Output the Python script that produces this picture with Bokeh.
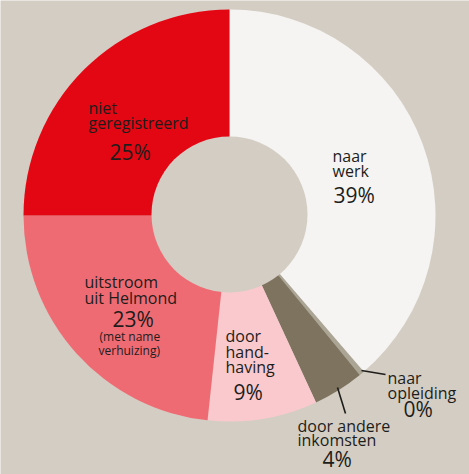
import math
from bokeh.plotting import figure
from bokeh.models import Range1d
from bokeh.core.properties import value
from bokeh.embed import file_html
from bokeh.resources import INLINE

# ---- data ----
categories = ["naar werk", "naar opleiding", "door andere inkomsten",
              "door handhaving", "uitstroom uit Helmond", "niet geregistreerd"]
shares = [38.7, 0.4, 4.0, 8.6, 23.3, 25.0]
pct_labels = ["39%", "0%", "4%", "9%", "23%", "25%"]
name_lines = [["naar", "werk"], ["naar", "opleiding"], ["door andere", "inkomsten"],
              ["door", "hand-", "having"], ["uitstroom", "uit Helmond"],
              ["niet", "geregistreerd"]]
note_lines = ["(met name", "verhuizing)"]

colors = ["#f5f4f2", "#aba595", "#7e735f", "#f9c9cd", "#ef6b74", "#e30613"]
BG = "#d4cdc3"
TXT = "#1d1d1b"
W, H = 469, 474

p = figure(width=W, height=H, output_backend="svg", toolbar_location=None,
           x_range=Range1d(0, W), y_range=Range1d(0, H),
           min_border=0, background_fill_color=BG, border_fill_color=BG)
p.axis.visible = False
p.grid.visible = False
p.outline_line_color = None

cx, cy = 229, H - 215
total = sum(shares)
starts, ends = [], []
cum = 0.0
for s in shares:
    starts.append(math.pi / 2 - 2 * math.pi * cum / total)
    cum += s
    ends.append(math.pi / 2 - 2 * math.pi * cum / total)

p.annular_wedge(x=cx, y=cy, inner_radius=0, outer_radius=206,
                start_angle=starts, end_angle=ends, direction="clock",
                fill_color=colors, line_color=None)
p.circle(x=[229], y=[H - 214], radius=78, fill_color=BG, line_color=None)

# leader lines
p.line(x=[361, 385], y=[H - 370, H - 374], line_color=TXT, line_width=1.6)
p.line(x=[337, 345], y=[H - 387, H - 413], line_color=TXT, line_width=1.6)

FONT = value("Open Sans")

def put(txt, x, y, size):
    p.text(x=[x], y=[H - y], text=[txt], text_font=FONT,
           text_font_size=value(f"{size}px"), text_color=TXT,
           text_align="left", text_baseline="alphabetic")

# naar werk
put(name_lines[0][0], 332, 155, 16)
put(name_lines[0][1], 332, 170, 16)
put(pct_labels[0], 333, 194, 21)
# naar opleiding
put(name_lines[1][0], 387, 377, 16)
put(name_lines[1][1], 387, 392, 16)
put(pct_labels[1], 403, 408, 21)
# door andere inkomsten
put(name_lines[2][0], 297, 425, 16)
put(name_lines[2][1], 297, 439, 16)
put(pct_labels[2], 322, 458, 21)
# door handhaving
put(name_lines[3][0], 225, 335, 16)
put(name_lines[3][1], 225, 351, 16)
put(name_lines[3][2], 225, 366, 16)
put(pct_labels[3], 233, 391, 21)
# uitstroom uit Helmond
put(name_lines[4][0], 84, 281, 16)
put(name_lines[4][1], 84, 297, 16)
put(pct_labels[4], 112, 318, 21)
put(note_lines[0], 99, 336, 12)
put(note_lines[1], 98, 350, 12)
# niet geregistreerd
put(name_lines[5][0], 88, 107, 16)
put(name_lines[5][1], 88, 122, 16)
put(pct_labels[5], 109, 151, 21)

html = file_html(p, INLINE)
html = html.replace("<body>", '<body style="margin:0;background:%s">' % BG, 1)
open("out.html", "w").write(html)
